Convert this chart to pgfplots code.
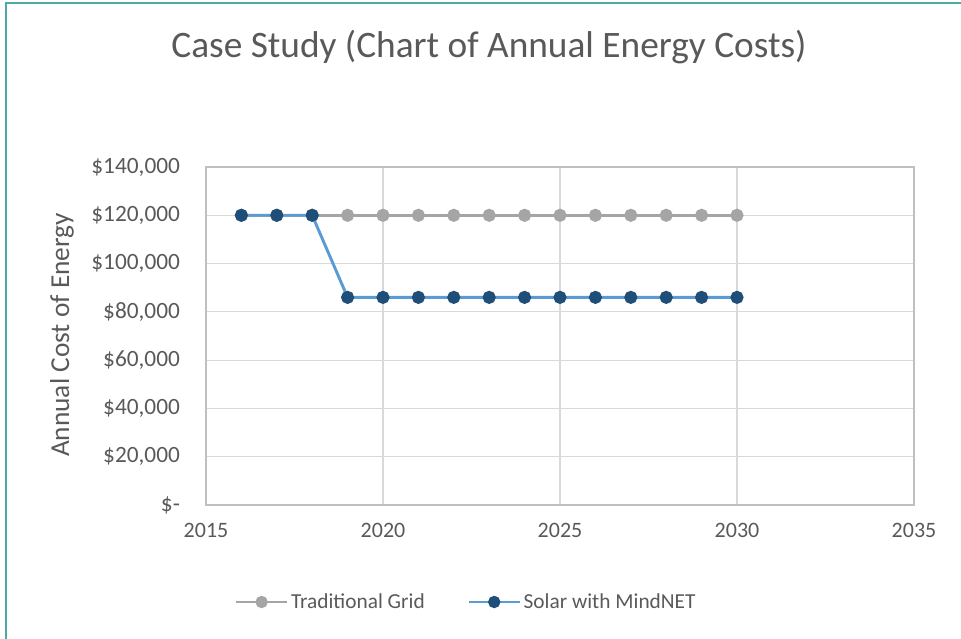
\documentclass[border=0pt]{standalone}
\usepackage{pgfplots}
\pgfplotsset{compat=1.18}
\usepackage{fontspec}
\setmainfont{Carlito}
\definecolor{txt}{HTML}{595959}
\definecolor{gridc}{HTML}{D9D9D9}
\definecolor{axc}{HTML}{BFBFBF}
\definecolor{grayser}{HTML}{A5A5A5}
\definecolor{blueline}{HTML}{5B9BD5}
\definecolor{bluemark}{HTML}{1F4E79}
\definecolor{teal}{HTML}{4FA8A8}
\begin{document}
\begin{tikzpicture}
\useasboundingbox (-154.5pt,-100.5pt) rectangle (566.25pt,378.75pt);
\draw[teal, line width=2pt] (-150pt,-100.5pt) -- (-150pt,376.5pt) -- (566.25pt,376.5pt);
\begin{axis}[
  at={(0,0)}, anchor=south west,
  scale only axis, width=531pt, height=253.5pt,
  xmin=2015, xmax=2035, ymin=0, ymax=140000,
  xtick={2015,2020,2025,2030,2035},
  xticklabels={2015,2020,2025,2030,2035},
  ytick={0,20000,40000,60000,80000,100000,120000,140000},
  yticklabels={{\$-},{\$20,000},{\$40,000},{\$60,000},{\$80,000},{\$100,000},{\$120,000},{\$140,000}},
  scaled y ticks=false,
  grid=major,
  major grid style={gridc, line width=0.8pt},
  axis line style={axc, line width=0.8pt},
  tick style={draw=none},
  ticklabel style={font=\fontsize{16.5}{19}\selectfont, text=txt},
  xticklabel style={yshift=-10pt},
  yticklabel style={font=\fontsize{17.5}{20}\selectfont, xshift=-16pt},
  legend style={at={(0.368,-0.287)}, anchor=center, draw=none, fill=none,
    font=\fontsize{16}{19}\selectfont, text=txt,
    /tikz/every even column/.append style={column sep=30pt}},
  legend columns=2,
  legend image code/.code={
    \draw[#1, mark=none] (0pt,0pt) -- (38pt,0pt);
    \draw[#1, only marks, mark size=3.5pt] plot coordinates {(19pt,0pt)};
  },
  clip=false,
]
\addplot[grayser, line width=2.2pt, mark=*, mark size=3.8pt, mark options={fill=grayser, draw=grayser}] coordinates {
(2016,120000)(2017,120000)(2018,120000)(2019,120000)(2020,120000)(2021,120000)(2022,120000)(2023,120000)(2024,120000)(2025,120000)(2026,120000)(2027,120000)(2028,120000)(2029,120000)(2030,120000)};
\addlegendentry{Traditional Grid}
\addplot[blueline, line width=2.2pt, mark=*, mark size=3.8pt, mark options={fill=bluemark, draw=bluemark}] coordinates {
(2016,120000)(2017,120000)(2018,120000)(2019,86000)(2020,86000)(2021,86000)(2022,86000)(2023,86000)(2024,86000)(2025,86000)(2026,86000)(2027,86000)(2028,86000)(2029,86000)(2030,86000)};
\addlegendentry{Solar with MindNET}
\end{axis}
\node[text=txt, font=\fontsize{28}{33}\selectfont] at (212.25pt,343.5pt) {Case Study (Chart of Annual Energy Costs)};
\node[text=txt, font=\fontsize{20.5}{24}\selectfont, rotate=90] at (-108pt,127.5pt) {Annual Cost of Energy};
\end{tikzpicture}
\end{document}
